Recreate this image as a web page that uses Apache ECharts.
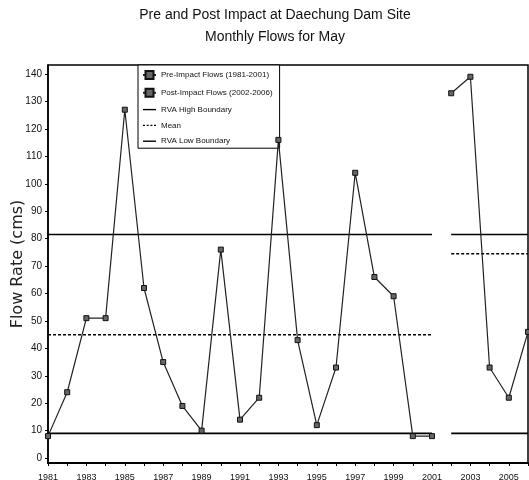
<!DOCTYPE html>
<html>
<head>
<meta charset="utf-8">
<script src="https://cdn.jsdelivr.net/npm/echarts@6/dist/echarts.min.js"></script>
<style>html,body{margin:0;padding:0;background:#fff;}#c{width:529px;height:480px;}</style>
</head>
<body>
<div id="c"></div>
<script>
const titleLines = ['Pre and Post Impact at Daechung Dam Site', 'Monthly Flows for May'];
const yAxisName = 'Flow Rate (cms)';
const preYears = [1981,1982,1983,1984,1985,1986,1987,1988,1989,1990,1991,1992,1993,1994,1995,1996,1997,1998,1999,2000,2001];
const preFlows = [8,24,51,51,127,62,35,19,10,76,14,22,116,43,12,33,104,66,59,8,8];
const postYears = [2002,2003,2004,2005,2006];
const postFlows = [133,139,33,22,46];
const preSpan = [1981, 2001];
const postSpan = [2002, 2006];
const rvaHigh = [81.5, 81.5];   // pre, post
const meanFlow = [45, 74.5];    // pre, post
const rvaLow = [9, 9];          // pre, post
const yTicks = [0,10,20,30,40,50,60,70,80,90,100,110,120,130,140];
const xLabelYears = [1981,1983,1985,1987,1989,1991,1993,1995,1997,1999,2001,2003,2005];
const xTickYears = [1981,1982,1983,1984,1985,1986,1987,1988,1989,1990,1991,1992,1993,1994,1995,1996,1997,1998,1999,2000,2001,2002,2003,2004,2005,2006];
const seriesNames = ['Pre-Impact Flows (1981-2001)', 'Post-Impact Flows (2002-2006)', 'RVA High Boundary', 'Mean', 'RVA Low Boundary'];

const SANS = '"Liberation Sans", Arial, sans-serif';

function zip(xs, ys) { return xs.map((x, i) => [x, ys[i]]); }
function segments(vals) {
  return [[preSpan[0], vals[0]], [preSpan[1], vals[0]], [(preSpan[1] + postSpan[0]) / 2, '-'], [postSpan[0], vals[1]], [postSpan[1], vals[1]]];
}

const markerStyle = { color: '#666', borderColor: '#111', borderWidth: 1 };
const solidIcon = 'path://M0,4.3 L13,4.3 L13,5.7 L0,5.7 Z';
const dottedIcon = 'path://M0,4.3 L2,4.3 L2,5.7 L0,5.7 Z M3.7,4.3 L5.7,4.3 L5.7,5.7 L3.7,5.7 Z M7.4,4.3 L9.4,4.3 L9.4,5.7 L7.4,5.7 Z M11,4.3 L13,4.3 L13,5.7 L11,5.7 Z';

const chart = echarts.init(document.getElementById('c'), null, { renderer: 'canvas' });
chart.setOption({
  animation: false,
  backgroundColor: '#fff',
  title: {
    text: titleLines.join('\n'),
    left: 275,
    textAlign: 'center',
    top: 4,
    padding: 0,
    textStyle: { fontFamily: SANS, fontSize: 14, fontWeight: 'normal', color: '#111', lineHeight: 22 }
  },
  legend: {
    orient: 'vertical',
    left: 138,
    top: 65,
    padding: [5, 7, 3, 4],
    itemWidth: 13,
    itemHeight: 10,
    itemGap: 7.8,
    backgroundColor: '#fff',
    borderColor: '#000',
    borderWidth: 1,
    textStyle: { fontFamily: SANS, fontSize: 8, color: '#111' },
    data: [
      { name: seriesNames[0] },
      { name: seriesNames[1] },
      { name: seriesNames[2], icon: solidIcon },
      { name: seriesNames[3], icon: dottedIcon },
      { name: seriesNames[4], icon: solidIcon }
    ]
  },
  grid: {
    left: 48, right: 1, top: 65, bottom: 17,
    outerBoundsMode: 'none',
    containLabel: false,
    show: true, borderColor: '#000', borderWidth: 1.5, backgroundColor: '#fff'
  },
  xAxis: {
    type: 'value',
    min: xTickYears[0],
    max: xTickYears[xTickYears.length - 1],
    axisLine: { show: true, onZero: false, lineStyle: { color: '#000', width: 2 } },
    axisTick: { show: true, customValues: xTickYears, length: 3, lineStyle: { color: '#000' } },
    axisLabel: { customValues: xLabelYears, margin: 10, fontFamily: SANS, fontSize: 9, color: '#111', formatter: v => String(v) },
    splitLine: { show: false }
  },
  yAxis: {
    type: 'value',
    min: -1.8,
    max: 143.3,
    name: yAxisName,
    nameLocation: 'middle',
    nameGap: 22,
    nameMoveOverlap: false,
    nameTextStyle: { fontFamily: '"DejaVu Sans", sans-serif', fontSize: 16, color: '#222' },
    axisLine: { show: true, onZero: false, lineStyle: { color: '#000', width: 1.5 } },
    axisTick: { show: true, customValues: yTicks, length: 3, lineStyle: { color: '#000' } },
    axisLabel: { customValues: yTicks, margin: 6, fontFamily: SANS, fontSize: 10, color: '#111' },
    splitLine: { show: false }
  },
  series: [
    {
      name: seriesNames[0], type: 'line', data: zip(preYears, preFlows),
      symbol: 'rect', symbolSize: 5, showAllSymbol: true,
      lineStyle: { color: '#222', width: 1.2 }, itemStyle: markerStyle, z: 5
    },
    {
      name: seriesNames[1], type: 'line', data: zip(postYears, postFlows),
      symbol: 'rect', symbolSize: 5, showAllSymbol: true,
      lineStyle: { color: '#222', width: 1.2 }, itemStyle: markerStyle, z: 5
    },
    {
      name: seriesNames[2], type: 'line', data: segments(rvaHigh), symbol: 'none',
      lineStyle: { color: '#000', width: 1.6 }, itemStyle: { color: '#000' }, connectNulls: false
    },
    {
      name: seriesNames[3], type: 'line', data: segments(meanFlow), symbol: 'none',
      lineStyle: { color: '#000', width: 1.5, type: [3, 2] }, itemStyle: { color: '#000' }, connectNulls: false
    },
    {
      name: seriesNames[4], type: 'line', data: segments(rvaLow), symbol: 'none',
      lineStyle: { color: '#000', width: 1.6 }, itemStyle: { color: '#000' }, connectNulls: false
    }
  ]
});
</script>
</body>
</html>
